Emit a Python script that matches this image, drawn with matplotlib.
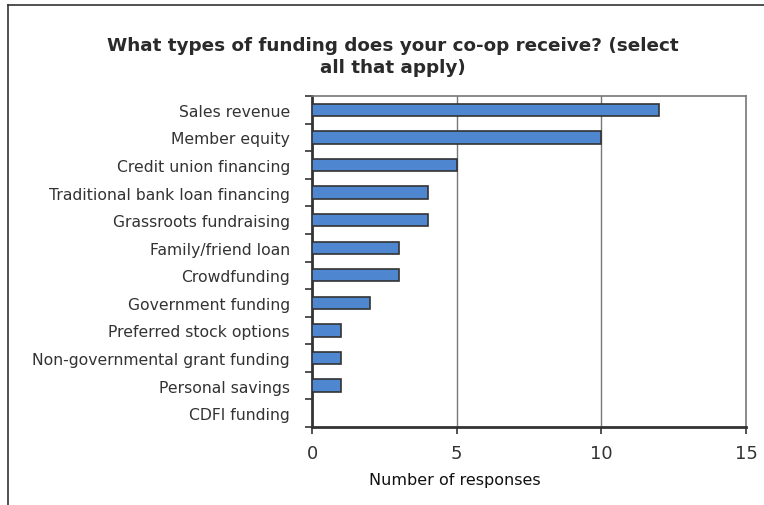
import matplotlib
matplotlib.use("Agg")
import matplotlib.pyplot as plt
from matplotlib.lines import Line2D
import numpy as np

categories = ["Sales revenue", "Member equity", "Credit union financing",
              "Traditional bank loan financing", "Grassroots fundraising",
              "Family/friend loan", "Crowdfunding", "Government funding",
              "Preferred stock options", "Non-governmental grant funding",
              "Personal savings", "CDFI funding"]
values = [12, 10, 5, 4, 4, 3, 3, 2, 1, 1, 1, 0]
xticks = [0, 5, 10, 15]

plt.rcParams['font.family'] = ['DejaVu Sans']

fig = plt.figure(figsize=(7.64, 5.06), dpi=100)
W, H = 764, 506
ax = fig.add_axes([312 / W, 1 - 428 / H, (746 - 312) / W, (428 - 97) / H])

n = len(categories)
y = np.arange(n)
ax.barh(y, values, height=0.45, color='#4F86D0', edgecolor='#333333', linewidth=1.2, zorder=3)
ax.set_ylim(n - 0.5, -0.5)
ax.set_xlim(0, 15)
ax.set_xticks(xticks)
ax.set_xticklabels([str(t) for t in xticks], fontsize=13, color='#333333')
ax.set_yticks(y)
ax.set_yticklabels(categories, fontsize=11.25, color='#333333')
ax.tick_params(axis='y', which='major', length=0, pad=16)
ax.set_yticks(np.arange(-0.5, n, 1.0), minor=True)
ax.tick_params(axis='y', which='minor', length=5, width=1.2, color='#333333', direction='out')
ax.tick_params(axis='x', which='major', length=5, width=1.2, color='#333333', direction='out', pad=7)

for v in [5, 10]:
    ax.axvline(v, color='#777777', linewidth=1.0, zorder=1)

for s in ['top', 'right']:
    ax.spines[s].set_color('#777777')
    ax.spines[s].set_linewidth(1.2)
for s in ['left', 'bottom']:
    ax.spines[s].set_color('#333333')
    ax.spines[s].set_linewidth(2.0)

fig.text(455 / W, 1 - 481 / H, "Number of responses", ha='center', va='center',
         fontsize=11.5, color='#111111')

fig.text(393 / W, 1 - 57 / H, "What types of funding does your co-op receive? (select\nall that apply)",
         ha='center', va='center', fontsize=13.2, fontweight='bold', color='#2a2a2a', linespacing=1.25)

fig.add_artist(Line2D([8 / W, 1], [1 - 6 / H, 1 - 6 / H], transform=fig.transFigure, color='#333333', linewidth=1.2))
fig.add_artist(Line2D([8 / W, 8 / W], [0, 1 - 6 / H], transform=fig.transFigure, color='#333333', linewidth=1.2))

fig.savefig("out.png", dpi=100)
